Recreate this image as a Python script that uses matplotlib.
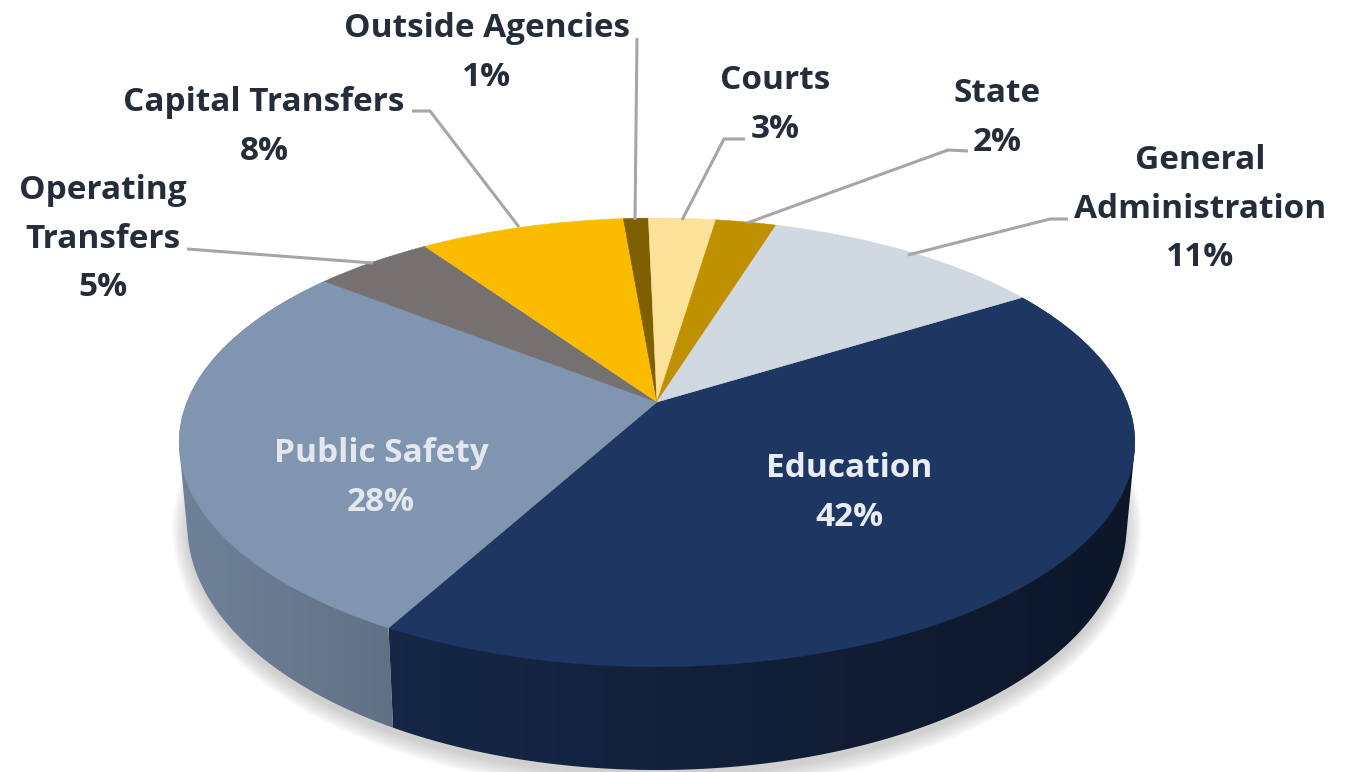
import numpy as np
import matplotlib
matplotlib.use("Agg")
import matplotlib.pyplot as plt
from matplotlib.colors import to_rgb
from matplotlib.patches import Ellipse, Polygon
from matplotlib.transforms import Transform

# ---- data ----
categories = ["Education", "Public Safety", "Operating\nTransfers", "Capital Transfers",
              "Outside Agencies", "Courts", "State", "General\nAdministration"]
values = [41.8, 27.6, 4.8, 8.25, 1.0, 2.7, 2.44, 11.36]
colors = ["#1E3662", "#8095AF", "#767171", "#FBBC00", "#7F6000", "#FBE298", "#BF9000", "#D0D8E2"]

# ---- layout ----
START = 31.8
TOP = dict(cx=657, cy=402, a=470, b=217, p=0.18)
BOT = dict(cx=657, cy=481, a=462, b=237, p=0.18)
label_pos = [(849, 493), (381, 478), (103, 239), (264, 127), (487, 53), (775, 105), (997, 118), (1200, 209)]
label_col = ["#E9EEF6", "#E4E8EE"] + ["#252D3B"] * 6
leaders = [
    [(187, 249), (373, 263)],
    [(412, 111), (430, 111), (519, 227)],
    [(637, 38), (635, 220)],
    [(745, 139), (724, 139), (682, 220)],
    [(968, 151), (948, 150), (747, 223)],
    [(1068, 219), (1050, 219), (908, 255)],
]
SIZE = 24


class Persp(Transform):
    input_dims = output_dims = 2
    is_separable = False
    has_inverse = False

    def __init__(self, cx, cy, a, b, p):
        super().__init__()
        self.cx, self.cy, self.a, self.b, self.p = cx, cy, a, b, p

    def transform_non_affine(self, v):
        v = np.asarray(v, float)
        w = 1 + self.p * v[:, 1]
        return np.column_stack((self.cx + self.a * v[:, 0] / w, self.cy - self.b * v[:, 1] / w))


def convex_hull(points):
    pts = sorted(set(map(tuple, np.round(points, 3))))

    def half(seq):
        out = []
        for q in seq:
            while len(out) > 1 and ((out[-1][0] - out[-2][0]) * (q[1] - out[-2][1])
                                    - (out[-1][1] - out[-2][1]) * (q[0] - out[-2][0])) <= 0:
                out.pop()
            out.append(q)
        return out[:-1]

    return np.array(half(pts) + half(pts[::-1]))


plt.rcParams["font.family"] = ["Open Sans", "DejaVu Sans"]
fig = plt.figure(figsize=(13.5, 7.72), dpi=100)
ax = fig.add_axes([0, 0, 1, 1])

wedges, _ = ax.pie(values, colors=colors, startangle=START, counterclock=False, radius=1,
                   normalize=True, frame=True)
ax.set_aspect("auto")

top_t, bot_t = Persp(**TOP), Persp(**BOT)
for w in wedges:
    w.set_transform(top_t + ax.transData)
    w.set_edgecolor(w.get_facecolor())
    w.set_linewidth(0.4)
    w.set_zorder(5)

# soft shadow under the disc
layers = 14
for i in range(layers):
    f = 1 - i / layers
    ax.add_patch(Ellipse((657, 530), 2 * (468 + 17 * f), 2 * (245 + 18 * f),
                         fc="#808080", ec="none", alpha=0.028, zorder=1))

# side wall: a horizontal gradient clipped to the wall outline
side_shades = {0: (395, 1130, 0.72, 0.42), 1: (185, 395, 0.87, 0.76)}
total = sum(values)
angle = START
for i, (v, c) in enumerate(zip(values, colors)):
    a0, a1 = angle, angle - v / total * 360
    angle = a1
    if i not in side_shades:
        continue
    left, right, fl, fr = side_shades[i]
    ts = np.radians(np.linspace(a0, a1, 200))
    unit = np.column_stack((np.cos(ts), np.sin(ts)))
    outline = convex_hull(np.vstack((top_t.transform(unit), bot_t.transform(unit))))
    clip = Polygon(outline, closed=True, transform=ax.transData, fc="none", ec="none")
    ax.add_patch(clip)
    x0, x1 = outline[:, 0].min(), outline[:, 0].max()
    fx = (np.clip(np.array([x0, x1]), left, right) - left) / (right - left)
    ramp = np.linspace(fl + (fr - fl) * fx[0], fl + (fr - fl) * fx[1], 256)
    grad = ramp[None, :, None] * np.array(to_rgb(c))[None, None, :]
    im = ax.imshow(grad, extent=(x0, x1, outline[:, 1].max(), outline[:, 1].min()),
                   aspect="auto", interpolation="bilinear", zorder=3)
    im.set_clip_path(clip)

ax.set_xlim(0, 1350)
ax.set_ylim(772, 0)
ax.axis("off")

# leader lines
for pts in leaders:
    xs, ys = zip(*pts)
    ax.plot(xs, ys, color="#A6A6A6", lw=2.2, solid_capstyle="butt", solid_joinstyle="miter", zorder=6)

# labels
for name, v, (x, y), col in zip(categories, values, label_pos, label_col):
    ax.text(x, y, f"{name}\n{v:.0f}%", ha="center", va="center", ma="center", color=col,
            fontsize=SIZE, fontweight="bold", linespacing=1.62, zorder=7)

fig.savefig("out.png", dpi=100, facecolor="white")
